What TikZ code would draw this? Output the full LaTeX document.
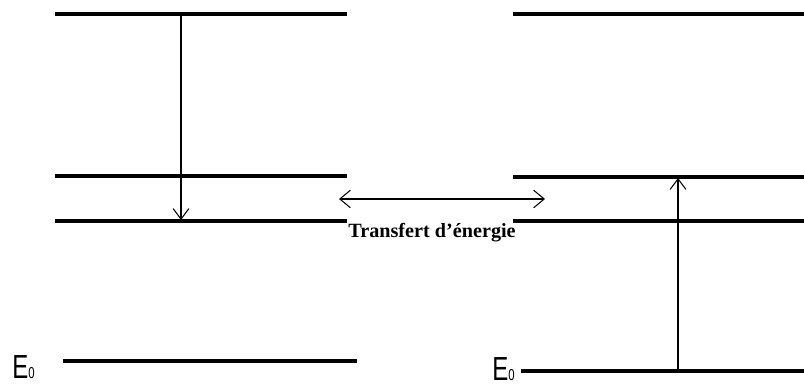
\documentclass[tikz,border=0pt]{standalone}
\usepackage{fontspec}
\usepackage{tikz}
\usetikzlibrary{arrows.meta}
\setmainfont{Liberation Serif}
\newfontfamily\levelfont[FakeStretch=0.72]{Liberation Sans}

\begin{document}
\begin{tikzpicture}[x=0.02cm, y=-0.02cm,
            level/.style={line width=2.6pt, black},
            transition/.style={line width=0.6pt, -{Straight Barb[length=6pt,width=9pt]}},
            levellabel/.style={font=\levelfont\fontsize{19}{19}\selectfont, inner sep=0pt, anchor=base west}]
  \useasboundingbox (0,0) rectangle (804,385);
  % donneur
  \draw[level] (55,14) -- (347,14);
  \draw[level] (55,176) -- (347,176);
  \draw[level] (55,221) -- (347,221);
  \draw[level] (63,361) -- (357,361);
  \node[levellabel] (e0d) at (12,378) {E{\fontsize{9}{9}\selectfont 0}};
  % accepteur
  \draw[level] (513,14) -- (804,14);
  \draw[level] (513,177) -- (804,177);
  \draw[level] (513,221) -- (804,221);
  \draw[level] (521,371) -- (804,371);
  \node[levellabel] (e0a) at (492,380) {E{\fontsize{9}{9}\selectfont 0}};
  % transitions
  \coordinate (dhaut) at (181,15);
  \coordinate (dbas) at (181,220);
  \coordinate (abas) at (678,370);
  \coordinate (ahaut) at (678,178);
  \draw[transition] (dhaut) -- (dbas);
  \draw[transition] (abas) -- (ahaut);
  \coordinate (tg) at (339,199);
  \coordinate (td) at (545,199);
  \draw[line width=0.6pt, {Straight Barb[length=6pt,width=10pt]}-{Straight Barb[length=6pt,width=10pt]}] (tg) -- (td);
  \node[font=\bfseries\fontsize{11.5}{13}\selectfont] (transfert) at (432,233) {Transfert d’énergie};
\end{tikzpicture}
\end{document}
